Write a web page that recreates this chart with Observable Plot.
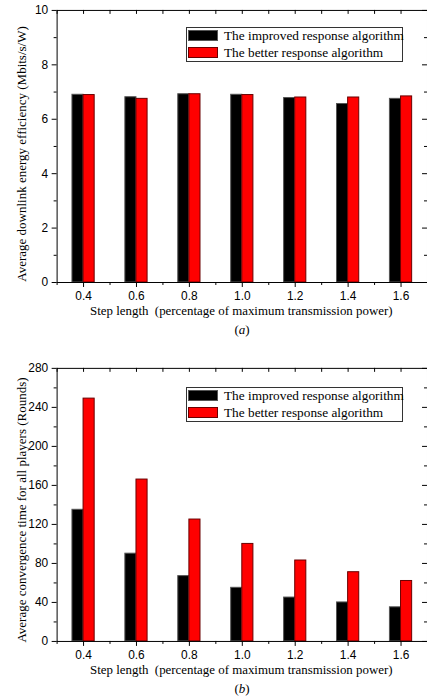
<!DOCTYPE html>
<html><head><meta charset="utf-8">
<script src="https://cdn.jsdelivr.net/npm/d3@7"></script>
<script src="https://cdn.jsdelivr.net/npm/@observablehq/plot@0.6"></script>
<style>
html,body{margin:0;padding:0;background:#fff;overflow:hidden}
#wrap{position:relative;width:427px;height:696px;overflow:hidden}
.panel{position:absolute;left:0}
.legend{position:absolute;box-sizing:border-box;left:186px;width:217px;height:35px;border:1px solid #333;background:#fff;font-family:"Liberation Serif","Times New Roman",Times,serif;font-size:13.3px;color:#000}
.sw{position:absolute;left:1px;width:30px;height:11px;box-sizing:border-box}
.lt{position:absolute;left:37px;line-height:16px;white-space:nowrap}
.cap{position:absolute;text-align:center;left:0;width:484px;line-height:16px;font-family:"Liberation Serif","Times New Roman",Times,serif;font-size:13px;color:#000}
.ylab{position:absolute;white-space:nowrap;line-height:14px;font-family:"Liberation Serif","Times New Roman",Times,serif;font-size:13px;color:#000;transform:translate(-50%,-50%) rotate(-90deg)}
</style></head>
<body><div id="wrap"></div>
<script>
// ---- data ----
const steps = [0.4, 0.6, 0.8, 1.0, 1.2, 1.4, 1.6];
const effImproved = [6.90, 6.81, 6.92, 6.90, 6.78, 6.56, 6.75];
const effBetter   = [6.89, 6.75, 6.92, 6.89, 6.80, 6.80, 6.84];
const convImproved = [135, 90, 67, 55, 45, 40, 35];
const convBetter   = [249, 166, 125, 100, 83, 71, 62];
const seriesNames = ["The improved response algorithm", "The better response algorithm"];
const xMinorTicks = [0.3, 0.5, 0.7, 0.9, 1.1, 1.3, 1.5, 1.7];
const yTicksA = [0, 2, 4, 6, 8, 10];
const yMinorA = [1, 3, 5, 7, 9];
const yTicksB = [0, 40, 80, 120, 160, 200, 240, 280];
const yMinorB = [20, 60, 100, 140, 180, 220, 260];
const yLabelA = "Average downlink energy efficiency (Mbits/s/W)";
const yLabelB = "Average convergence time for all players (Rounds)";
const xLabel = "Step length  (percentage of maximum transmission power)";

const bw = 0.042;
const serif = "Liberation Serif, Times New Roman, serif";
const sans = "Liberation Sans, Arial, sans-serif";
const W = 430;

function panel({improved, better, yDomain, yTicks, yMinor, height, marginTop, marginBottom}) {
  const rows = steps.map((s, i) => ({step: s, improved: improved[i], better: better[i]}));
  const frameH = height - marginTop - marginBottom;
  const frameW = W - 57;
  const allX = [...steps, ...xMinorTicks];
  return Plot.plot({
    width: W, height, marginLeft: 57, marginRight: 0, marginTop, marginBottom,
    x: {domain: [0.3, 1.7]},
    y: {domain: yDomain},
    style: {fontFamily: sans, fontSize: "12px", color: "#000", background: "transparent", overflow: "visible"},
    marks: [
      Plot.rectY(rows, {x1: d => d.step - bw, x2: d => d.step, y: "improved", fill: "#000", stroke: "#555", strokeWidth: 1}),
      Plot.rectY(rows, {x1: d => d.step, x2: d => d.step + bw, y: "better", fill: "#ff0000", stroke: "#6a0000", strokeWidth: 1}),
      Plot.frame({stroke: "#000", strokeWidth: 1}),
      Plot.axisX({ticks: steps, tickSize: 5, tickPadding: 4, tickFormat: d3.format(".1f"), fontSize: 12, label: null}),
      Plot.axisX({ticks: xMinorTicks, tickSize: 3, tickFormat: () => "", label: null}),
      Plot.ruleX(allX, {x: d => d, insetBottom: frameH - 4, stroke: "#000"}),
      Plot.axisY({ticks: yTicks, tickSize: 5, tickPadding: 4, fontSize: 12, label: null}),
      Plot.axisY({ticks: yMinor, tickSize: 3, tickFormat: () => "", label: null}),
      Plot.ruleY(yTicks, {y: d => d, insetLeft: frameW - 5, stroke: "#000"}),
      Plot.ruleY(yMinor, {y: d => d, insetLeft: frameW - 3, stroke: "#000"}),
      Plot.text([xLabel], {frameAnchor: "bottom", textAnchor: "middle", lineAnchor: "middle", dy: 29, dx: -1, fontFamily: serif, fontSize: 13})
    ]
  });
}

const wrap = document.getElementById("wrap");
const pa = panel({improved: effImproved, better: effBetter, yDomain: [0, 10], yTicks: yTicksA, yMinor: yMinorA, height: 350, marginTop: 10, marginBottom: 66});
pa.classList.add("panel"); pa.style.top = "0px";
wrap.appendChild(pa);
const pb = panel({improved: convImproved, better: convBetter, yDomain: [0, 280], yTicks: yTicksB, yMinor: yMinorB, height: 346, marginTop: 18, marginBottom: 53});
pb.classList.add("panel"); pb.style.top = "350px";
wrap.appendChild(pb);

function ylab(text, cx, cy) {
  const d = document.createElement("div");
  d.className = "ylab";
  d.style.left = cx + "px";
  d.style.top = cy + "px";
  d.textContent = text;
  wrap.appendChild(d);
}
ylab(yLabelA, 22, 154);
ylab(yLabelB, 22, 510);

function legend(top) {
  const lg = document.createElement("div");
  lg.className = "legend";
  lg.style.top = top + "px";
  const colors = [["#000", "#555"], ["#ff0000", "#6a0000"]];
  seriesNames.forEach((name, i) => {
    const sw = document.createElement("div");
    sw.className = "sw";
    sw.style.top = (2 + i * 17.3) + "px";
    sw.style.background = colors[i][0];
    sw.style.border = "1px solid " + colors[i][1];
    lg.appendChild(sw);
    const t = document.createElement("div");
    t.className = "lt";
    t.style.top = (i * 17) + "px";
    t.textContent = name;
    lg.appendChild(t);
  });
  wrap.appendChild(lg);
}
legend(27);
legend(387);

function cap(letter, centerY) {
  const c = document.createElement("div");
  c.className = "cap";
  c.style.top = (centerY - 8) + "px";
  c.innerHTML = "(<i>" + letter + "</i>)";
  wrap.appendChild(c);
}
cap("a", 330);
cap("b", 689);
</script></body></html>
